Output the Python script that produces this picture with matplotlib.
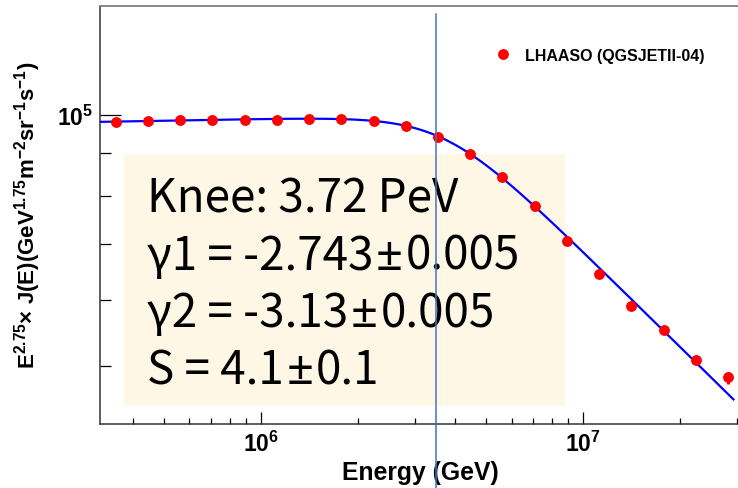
import numpy as np
import matplotlib
matplotlib.use("Agg")
import matplotlib.pyplot as plt
from matplotlib.ticker import LogLocator, FuncFormatter, NullFormatter
from matplotlib.lines import Line2D
from matplotlib.patches import Rectangle

plt.rcParams['font.family'] = ['Liberation Sans', 'DejaVu Sans']
plt.rcParams['mathtext.fontset'] = 'custom'
plt.rcParams['mathtext.rm'] = 'Liberation Sans:bold'
plt.rcParams['mathtext.it'] = 'Liberation Sans:bold'
plt.rcParams['mathtext.bf'] = 'Liberation Sans:bold'

# LHAASO all-particle spectrum (QGSJETII-04), E^2.75 x flux
energy = [3.55e5, 4.47e5, 5.62e5, 7.08e5, 8.91e5, 1.12e6, 1.41e6, 1.78e6, 2.24e6, 2.82e6,
          3.55e6, 4.47e6, 5.62e6, 7.08e6, 8.91e6, 1.12e7, 1.41e7, 1.78e7, 2.24e7, 2.82e7]
flux = [98100, 98300, 98600, 98500, 98500, 98600, 98800, 98900, 98300, 96900,
        94000, 89700, 84300, 77700, 70600, 64500, 58900, 55200, 50800, 48400]
flux_err = [150, 150, 150, 150, 150, 150, 150, 150, 150, 150,
            150, 150, 150, 200, 200, 250, 300, 400, 500, 800]

# broken power-law fit parameters
knee = 3.72e6
gamma1 = -2.743
gamma2 = -3.13
sharp = 4.1
norm = 99800
fit_range = (3.17e5, 2.93e7)

knee_marker = 3.5e6

fit_lines = ["Knee: 3.72 PeV",
             "γ1 = -2.743±0.005",
             "γ2 = -3.13±0.005",
             "S = 4.1±0.1"]

fig = plt.figure(figsize=(7.38, 4.89), dpi=100)
ax = fig.add_axes([100/738, 64/489, 640/738, 418.5/489])

e_fit = np.logspace(np.log10(fit_range[0]), np.log10(fit_range[1]), 400)
x = e_fit / knee
f_fit = norm * x**(gamma1 + 2.75) * (1 + x**sharp)**((gamma2 - gamma1) / sharp)
ax.plot(e_fit, f_fit, color="#0000FF", lw=1.6, zorder=3)

ax.errorbar(energy, flux, yerr=flux_err, fmt="o", color="#FF0000", ms=6.8,
            elinewidth=2.2, capsize=0, zorder=4)

# fit summary box
ax.add_patch(Rectangle((0.0375, 0.042), 0.689, 0.603, transform=ax.transAxes,
                       facecolor="#FFF7E6", edgecolor="none", zorder=1))
box_font = dict(family=["Noto Sans CJK SC", "DejaVu Sans"], fontsize=33)
for i, line in enumerate(fit_lines):
    y = 0.508 - i * 0.137
    parts = line.split("±")
    prev = ax.text(0.073, y, parts[0], transform=ax.transAxes, va="baseline",
                   ha="left", zorder=5, **box_font)
    if len(parts) > 1:
        pm = ax.annotate("±", xy=(1, y), xycoords=(prev, ax.transAxes),
                         xytext=(2, 0), textcoords="offset points",
                         va="baseline", ha="left", zorder=5,
                         family=["Noto Sans", "DejaVu Sans"], fontsize=34)
        ax.annotate(parts[1], xy=(1, y), xycoords=(pm, ax.transAxes),
                    xytext=(2, 0), textcoords="offset points",
                    va="baseline", ha="left", zorder=5, **box_font)

ax.axvline(knee_marker, ymin=-0.153, ymax=0.98, color="#4472C4", lw=1.1,
           clip_on=False, zorder=6)

ax.set_xscale("log")
ax.set_yscale("log")
ax.set_xlim(3.17e5, 3.07e7)
ax.set_ylim(42560, 135300)

ax.xaxis.set_major_locator(LogLocator(base=10))
ax.yaxis.set_major_locator(LogLocator(base=10))
ax.xaxis.set_minor_locator(LogLocator(base=10, subs=np.arange(2, 10)))
ax.yaxis.set_minor_locator(LogLocator(base=10, subs=np.arange(2, 10)))
pow_fmt = FuncFormatter(lambda v, p: r"$10^{%d}$" % round(np.log10(v)))
ax.xaxis.set_major_formatter(pow_fmt)
ax.yaxis.set_major_formatter(pow_fmt)
ax.xaxis.set_minor_formatter(NullFormatter())
ax.yaxis.set_minor_formatter(NullFormatter())

ax.tick_params(axis="x", which="major", direction="in", length=8.8, width=0.9, labelsize=16.5, pad=5)
ax.tick_params(axis="x", which="minor", direction="in", length=4.4, width=0.9)
ax.tick_params(axis="y", which="major", direction="in", length=14.8, width=0.9, labelsize=16.5, pad=5)
ax.tick_params(axis="y", which="minor", direction="in", length=7.6, width=0.9)

for side in ["left", "bottom"]:
    ax.spines[side].set_color("#333333")
    ax.spines[side].set_linewidth(1.1)
ax.spines["top"].set_color("#888888")
ax.spines["top"].set_linewidth(1.4)
ax.spines["right"].set_visible(False)

ax.set_xlabel("Energy (GeV)", fontsize=17.8, fontweight="bold", labelpad=3)
ax.set_ylabel(r"E$^{2.75}$× J(E)(GeV$^{1.75}$m$^{-2}$sr$^{-1}$s$^{-1}$)",
              fontsize=16, fontweight="bold", labelpad=10)

handle = Line2D([], [], marker="o", color="#FF0000", ls="none", ms=6.8)
ax.legend([handle], ["LHAASO (QGSJETII-04)"], loc="center left",
          bbox_to_anchor=(479/738, 1 - 56/489), bbox_transform=fig.transFigure,
          frameon=False, handletextpad=0.4, borderpad=0,
          prop={"weight": "bold", "size": 11.5})

fig.savefig("out.png", dpi=100)
